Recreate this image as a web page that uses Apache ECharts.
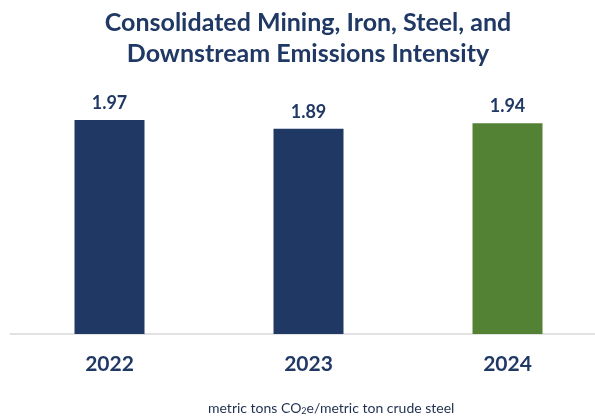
<!DOCTYPE html>
<html>
<head>
<meta charset="utf-8">
<script src="https://cdn.jsdelivr.net/npm/echarts@6/dist/echarts.min.js"></script>
<style>
    html, body {margin: 0; padding: 0; background: #fff;}
    #main {width: 595px; height: 420px;}
</style>
</head>
<body>
<div id="main"></div>
<script>
    // 数据
    var years = ['2022', '2023', '2024'];
    var intensity = [1.97, 1.89, 1.94];
    var barColors = ['#203864', '#203864', '#548235'];

    var navy = '#203864';

    var myChart = echarts.init(document.getElementById('main'));
    var opt = {
        title: [{
            text: 'Consolidated Mining, Iron, Steel, and\nDownstream Emissions Intensity',
            left: 308,
            top: 7,
            padding: 0,
            textAlign: 'center',
            textStyle: {
                color: navy,
                fontFamily: 'Lato',
                fontWeight: 'bold',
                fontSize: 25,
                lineHeight: 31
            }
        }, {
            text: 'metric tons CO{sub|2}e/metric ton crude steel',
            left: 203,
            top: 396,
            textStyle: {
                color: '#1f2f50',
                fontFamily: 'Lato',
                fontWeight: 'normal',
                fontSize: 14,
                rich: {
                    sub: {
                        fontFamily: 'Lato',
                        fontSize: 9,
                        color: '#1f2f50',
                        verticalAlign: 'bottom',
                        padding: [6, 0, 0, 0]
                    }
                }
            }
        }],
        grid: {
            left: 10,
            width: 597,
            top: 62.5,
            bottom: 86,
            outerBoundsMode: 'none'
        },
        xAxis: [{
            type: 'category',
            data: years,
            axisTick: {show: false},
            axisLine: {
                lineStyle: {color: '#d9d9d9', width: 1.5}
            },
            axisLabel: {
                margin: 20,
                color: navy,
                fontFamily: 'Lato',
                fontWeight: 'bold',
                fontSize: 21
            }
        }],
        yAxis: [{
            type: 'value',
            min: 0,
            max: 2.5,
            show: false,
            splitLine: {show: false}
        }],
        series: [{
            type: 'bar',
            barWidth: 70,
            data: intensity.map(function (v, i) {
                return {value: v, itemStyle: {color: barColors[i]}};
            }),
            label: {
                show: true,
                position: 'top',
                distance: 8,
                color: navy,
                fontFamily: 'Lato',
                fontWeight: 'bold',
                fontSize: 18,
                formatter: function (p) {
                    return p.value.toFixed(2);
                }
            }
        }]
    };
    myChart.setOption(opt);
</script>
</body>
</html>
